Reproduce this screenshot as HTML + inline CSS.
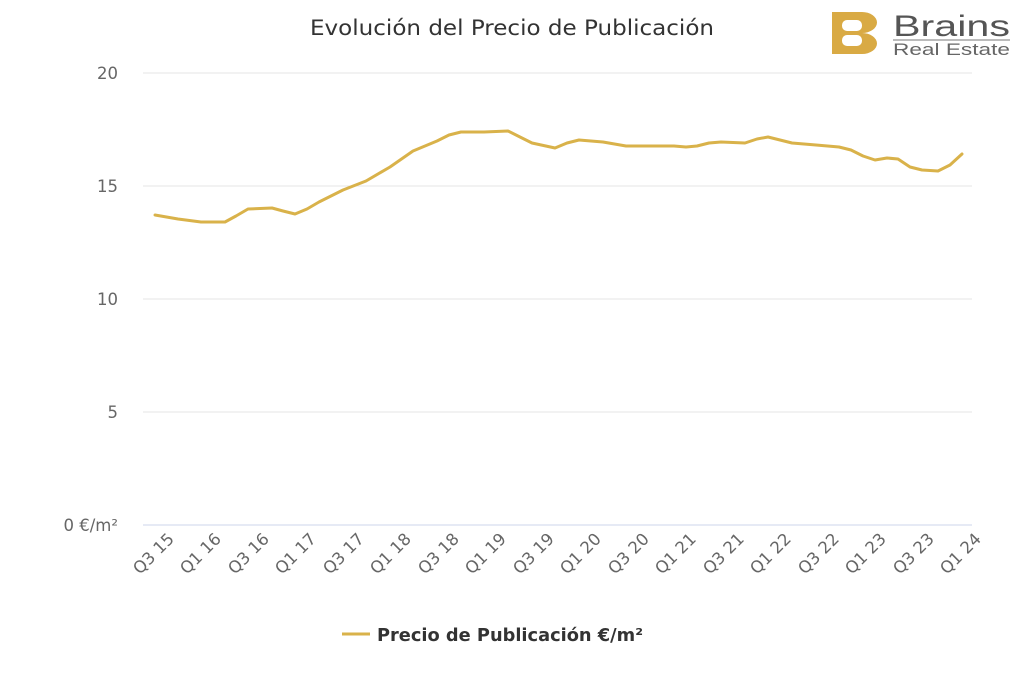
<!DOCTYPE html>
<html><head><meta charset="utf-8"><style>
body{margin:0;background:#fff;width:1024px;height:683px;overflow:hidden;font-family:"DejaVu Sans","Liberation Sans",sans-serif}
</style></head><body>
<svg width="1024" height="683" xmlns="http://www.w3.org/2000/svg" font-family="DejaVu Sans, Liberation Sans, sans-serif">
<text x="512" y="35" text-anchor="middle" font-size="21" fill="#333" textLength="404" lengthAdjust="spacingAndGlyphs">Evolución del Precio de Publicación</text>
<!-- logo -->
<path d="M832 12h30a15 10.5 0 0 1 0 21a15 10.5 0 0 1 0 21h-30z" fill="#d9aa44"/>
<rect x="842" y="20" width="20" height="11" rx="5" fill="#fff"/>
<rect x="842" y="35" width="20" height="11" rx="5" fill="#fff"/>
<text x="893" y="36" font-size="30" fill="#555" font-family="Liberation Sans, sans-serif" textLength="117" lengthAdjust="spacingAndGlyphs">Brains</text>
<line x1="893" y1="40" x2="1010" y2="40" stroke="#777" stroke-width="1"/>
<text x="893" y="55" font-size="17" fill="#666" font-family="Liberation Sans, sans-serif" textLength="117" lengthAdjust="spacingAndGlyphs">Real Estate</text>
<g stroke="#e6e6e6" stroke-width="1">
<line x1="143" y1="73" x2="972" y2="73"/><line x1="143" y1="186" x2="972" y2="186"/>
<line x1="143" y1="299" x2="972" y2="299"/><line x1="143" y1="412" x2="972" y2="412"/>
</g>
<line x1="143" y1="525" x2="972" y2="525" stroke="#ccd6eb"/>
<g font-size="16.5" fill="#666" text-anchor="end">
<text x="118" y="79">20</text><text x="118" y="192">15</text><text x="118" y="305">10</text><text x="118" y="418">5</text><text x="118" y="531">0 €/m²</text>
</g>
<polyline fill="none" stroke="#d9b24a" stroke-width="3" stroke-linejoin="round" stroke-linecap="round" points="155,215 178,219 201,222 225,222 236,216 248,209 272,208 283,211 295,214 307,209 319,202 343,190 366,181 390,167 413,151 437,141 449,135 461,132 484,132 508,131 520,137 532,143 555,148 567,143 579,140 603,142 626,146 650,146 674,146 686,147 697,146 709,143 721,142 745,143 757,139 768,137 780,140 792,143 816,145 839,147 851,150 863,156 875,160 887,158 898,159 910,167 922,170 938,171 950,165 962,154"/>
<g font-size="16.5" fill="#666" text-anchor="end">
<text transform="translate(175,540) rotate(-45)">Q3 15</text>
<text transform="translate(222,540) rotate(-45)">Q1 16</text>
<text transform="translate(270,540) rotate(-45)">Q3 16</text>
<text transform="translate(317,540) rotate(-45)">Q1 17</text>
<text transform="translate(365,540) rotate(-45)">Q3 17</text>
<text transform="translate(412,540) rotate(-45)">Q1 18</text>
<text transform="translate(460,540) rotate(-45)">Q3 18</text>
<text transform="translate(507,540) rotate(-45)">Q1 19</text>
<text transform="translate(555,540) rotate(-45)">Q3 19</text>
<text transform="translate(602,540) rotate(-45)">Q1 20</text>
<text transform="translate(650,540) rotate(-45)">Q3 20</text>
<text transform="translate(697,540) rotate(-45)">Q1 21</text>
<text transform="translate(745,540) rotate(-45)">Q3 21</text>
<text transform="translate(792,540) rotate(-45)">Q1 22</text>
<text transform="translate(840,540) rotate(-45)">Q3 22</text>
<text transform="translate(887,540) rotate(-45)">Q1 23</text>
<text transform="translate(935,540) rotate(-45)">Q3 23</text>
<text transform="translate(982,540) rotate(-45)">Q1 24</text>
</g>
<line x1="342" y1="634" x2="370" y2="634" stroke="#d9b24a" stroke-width="3"/>
<text x="377" y="641" font-size="17.5" font-weight="bold" fill="#333" textLength="266" lengthAdjust="spacingAndGlyphs">Precio de Publicación €/m²</text>
</svg>
</body></html>
